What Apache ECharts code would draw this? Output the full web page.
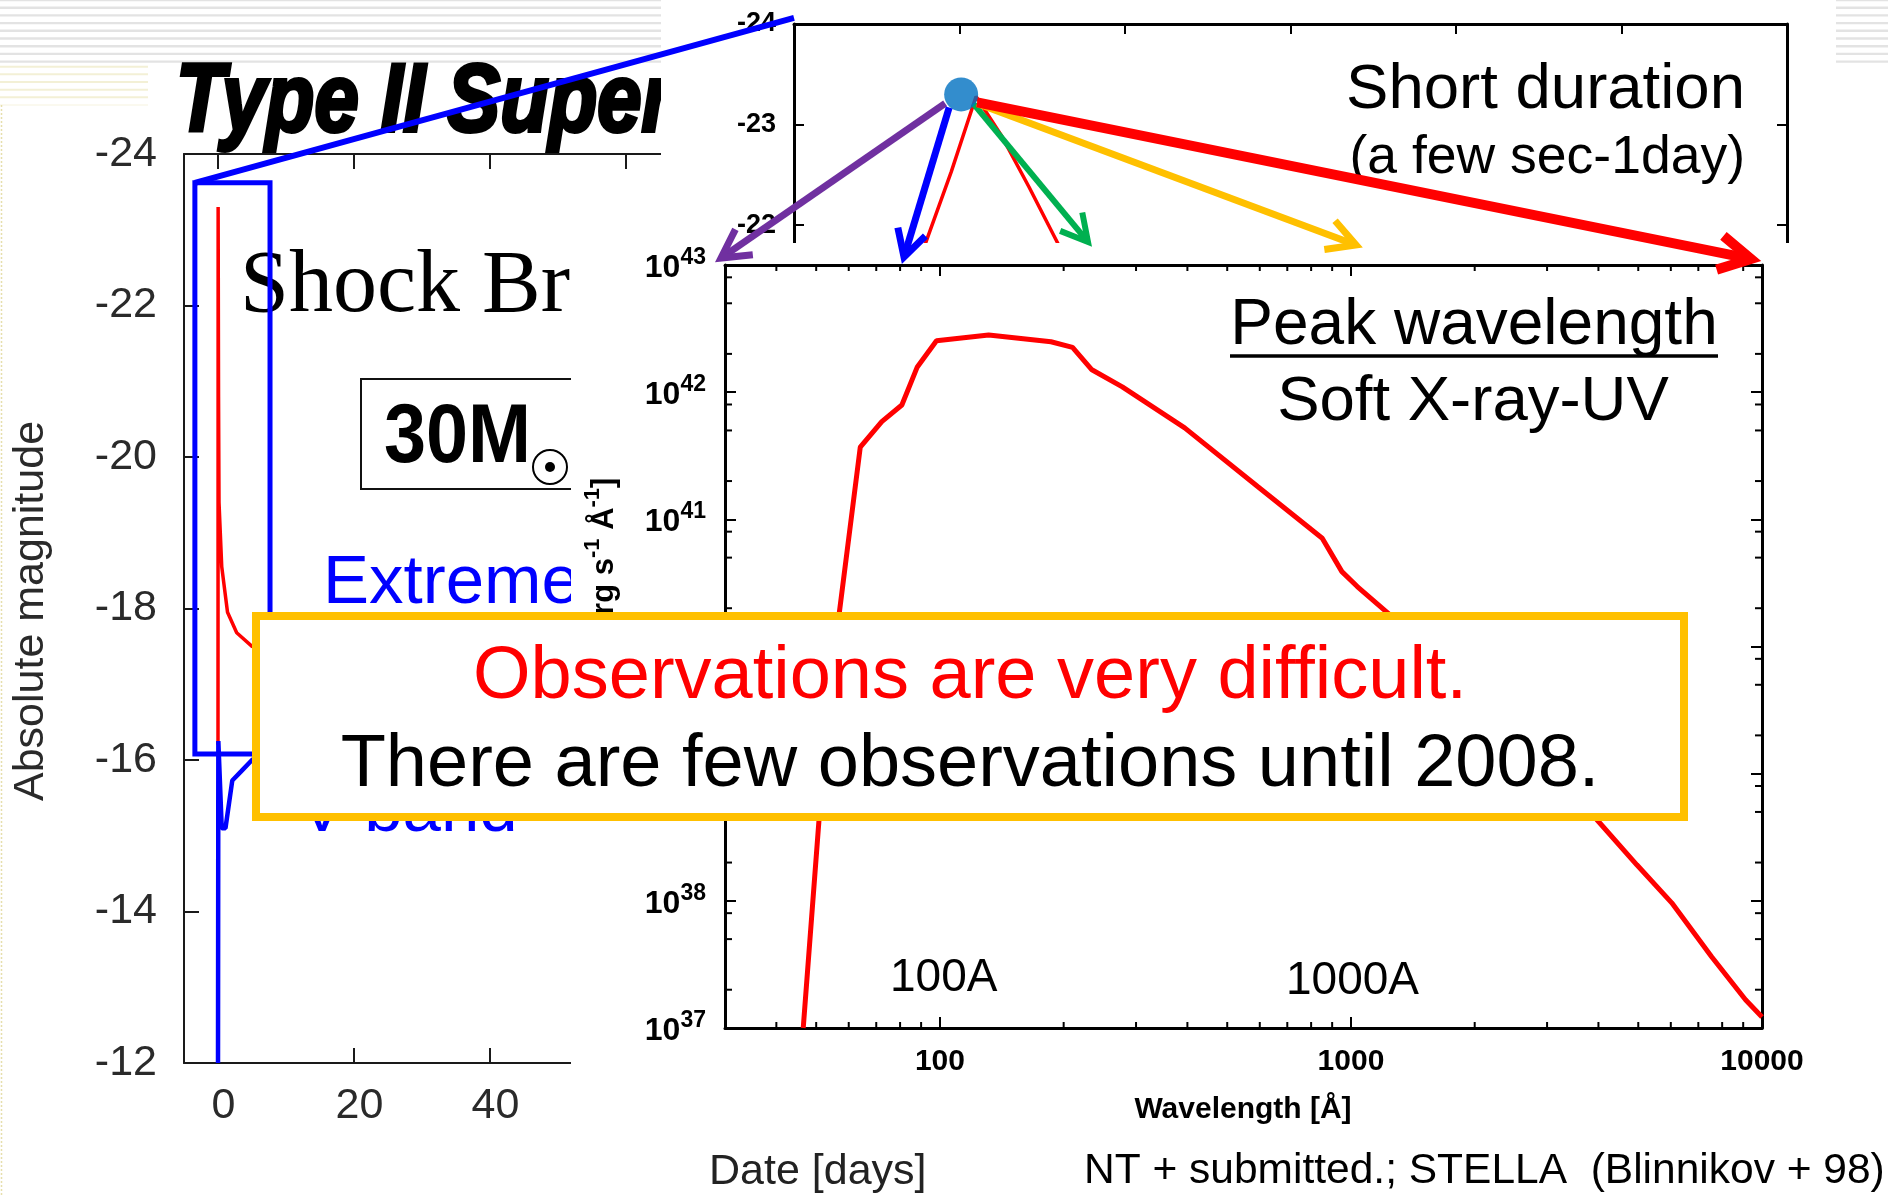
<!DOCTYPE html>
<html>
<head>
<meta charset="utf-8">
<script src="https://cdn.jsdelivr.net/npm/echarts@6/dist/echarts.min.js"></script>
<style>
html, body { margin: 0; padding: 0; background: #fff; }
#main { width: 1888px; height: 1195px; }
</style>
</head>
<body>
<div id="main"></div>
<script>
// ---- light curve of a 30 Msun explosion (days, absolute magnitude) ----
const lcRedDays = [0, 0.02, 0.08, 0.15, 0.55, 1.4, 2.75, 5, 8];
const lcRedMag  = [-16.2, -23.3, -20.8, -19.4, -18.55, -17.95, -17.68, -17.5, -17.4];
const lcVDays   = [0, 0.05, 0.55, 1.1, 2.1, 3.4, 5, 8];
const lcVMag    = [-12, -16.25, -15.1, -15.1, -15.73, -15.85, -16.0, -16.15];
const lcDayTicks = [0, 20, 40, 60];
// window around the breakout peak that is enlarged above
const zoomWindowDays = [-3.4, 7.65];
const zoomWindowMag  = [-23.62, -16.08];

// ---- close-up of the breakout peak ----
const peakTime = [0.79, 0.95, 1.1, 1.25, 1.42, 1.6];
const peakMag  = [-21.8, -22.53, -23.28, -22.9, -22.38, -21.8];
const peakPoint = [1.01, -23.3];

// ---- spectrum at the peak (wavelength in Angstrom, erg/s/A) ----
const specWavelength = [46.5, 50.8, 56.9, 64.0, 72.2, 80.8, 88.1, 98.1, 131.4, 186.3, 210.2, 234.3,
  277.8, 394, 592.8, 851.4, 950.4, 1036, 1230, 3966, 4959, 6031, 7541, 9118, 10000];
const specLum = [1.0e37, 4.34e38, 1.83e40, 3.69e41, 5.86e41, 7.93e41, 1.58e42, 2.54e42, 2.82e42, 2.49e42, 2.25e42, 1.50e42,
  1.10e42, 5.24e41, 1.81e41, 7.10e40, 3.88e40, 2.96e40, 1.83e40, 4.34e38, 1.92e38, 9.64e37, 3.63e37, 1.67e37, 1.22e37];
const wlRange  = [30, 10000];
const lumRange = [1e37, 1e43];
const wlMinorTicks = [40, 50, 60, 70, 80, 90, 200, 300, 400, 500, 600, 700, 800, 900,
  2000, 3000, 4000, 5000, 6000, 7000, 8000, 9000];
const lumMinorTicks = [2e37, 5e37, 8e37, 2e38, 5e38, 8e38, 2e39, 5e39, 8e39, 2e40, 5e40, 8e40,
  2e41, 5e41, 8e41, 2e42, 5e42, 8e42];

const FONT = '"Liberation Sans", Arial, sans-serif';
const SERIF = '"Liberation Serif", "Times New Roman", serif';
const zip = (a, b) => a.map((v, i) => [v, b[i]]);

const chart = echarts.init(document.getElementById('main'), null, { renderer: 'canvas' });

function minorTicks(axis, values, len) {
  return {
    type: 'custom', xAxisIndex: 3, yAxisIndex: 3, z: 9, silent: true, clip: false,
    data: values.map(v => [v]),
    renderItem: (params, api) => {
      const v = api.value(0);
      let segs;
      if (axis === 'x') {
        const a = api.coord([v, lumRange[0]]), b = api.coord([v, lumRange[1]]);
        segs = [[a[0], a[1], a[0], a[1] - len], [b[0], b[1], b[0], b[1] + len]];
      } else {
        const a = api.coord([wlRange[0], v]), b = api.coord([wlRange[1], v]);
        segs = [[a[0], a[1], a[0] + len, a[1]], [b[0], b[1], b[0] - len, b[1]]];
      }
      return {
        type: 'group',
        children: segs.map(s => ({
          type: 'line', shape: { x1: s[0], y1: s[1], x2: s[2], y2: s[3] },
          style: { stroke: '#000', lineWidth: 2 }
        }))
      };
    }
  };
}

const lcAxisLine = { onZero: false, lineStyle: { color: '#1a1a1a', width: 2 } };
const blackLine = { onZero: false, lineStyle: { color: '#000', width: 3 } };

chart.setOption({
  animation: false,
  backgroundColor: '#fff',
  grid: [
    { left: 184, top: 154, width: 510, height: 909 },
    { left: 794, top: 24, width: 993, height: 221.3 },
    { left: 725, top: 265, width: 1037, height: 763 }
  ],
  xAxis: [
    { gridIndex: 0, type: 'value', min: -5, max: 70, position: 'bottom', z: 1,
      axisLine: lcAxisLine, splitLine: { show: false },
      axisTick: { inside: true, length: 15, customValues: lcDayTicks, lineStyle: { color: '#1a1a1a', width: 2 } },
      axisLabel: { customValues: lcDayTicks, margin: 22, fontSize: 43, fontFamily: FONT, color: '#2a2a2a', padding: [0, 0, 0, 11] } },
    { gridIndex: 0, type: 'value', min: -5, max: 70, position: 'top', z: 1,
      axisLine: lcAxisLine, splitLine: { show: false },
      axisTick: { inside: true, length: 15, customValues: lcDayTicks, lineStyle: { color: '#1a1a1a', width: 2 } },
      axisLabel: { show: false } },
    { gridIndex: 1, type: 'value', min: 0, max: 6, interval: 1, position: 'top', z: 5,
      axisLine: blackLine, splitLine: { show: false },
      axisTick: { inside: true, length: 10, lineStyle: { color: '#000', width: 2 } },
      axisLabel: { show: false } },
    { gridIndex: 2, type: 'log', logBase: 10, min: wlRange[0], max: wlRange[1], position: 'bottom', z: 8,
      axisLine: blackLine, splitLine: { show: false },
      axisTick: { inside: true, length: 11, lineStyle: { color: '#000', width: 2 } },
      axisLabel: { showMinLabel: false, margin: 19, fontSize: 30, lineHeight: 30, fontWeight: 'bold', fontFamily: FONT, color: '#000',
        formatter: v => String(Math.round(v)) } },
    { gridIndex: 2, type: 'log', logBase: 10, min: wlRange[0], max: wlRange[1], position: 'top', z: 8,
      axisLine: blackLine, splitLine: { show: false },
      axisTick: { inside: true, length: 11, lineStyle: { color: '#000', width: 2 } },
      axisLabel: { show: false } }
  ],
  yAxis: [
    { gridIndex: 0, type: 'value', min: -24, max: -12, interval: 2, inverse: true, z: 1,
      axisLine: lcAxisLine, splitLine: { show: false },
      axisTick: { inside: true, length: 15, lineStyle: { color: '#1a1a1a', width: 2 } },
      axisLabel: { margin: 27, fontSize: 43, fontFamily: FONT, color: '#2a2a2a' } },
    { gridIndex: 1, type: 'value', min: -24, max: -21.8, interval: 1, inverse: true, position: 'left', z: 5,
      axisLine: blackLine, splitLine: { show: false },
      axisTick: { inside: true, length: 10, lineStyle: { color: '#000', width: 2 } },
      axisLabel: { showMaxLabel: false, margin: 18, fontSize: 27, fontWeight: 'bold', fontFamily: FONT, color: '#000' } },
    { gridIndex: 1, type: 'value', min: -24, max: -21.8, interval: 1, inverse: true, position: 'right', z: 5,
      axisLine: blackLine, splitLine: { show: false },
      axisTick: { inside: true, length: 10, lineStyle: { color: '#000', width: 2 } },
      axisLabel: { show: false } },
    { gridIndex: 2, type: 'log', logBase: 10, min: lumRange[0], max: lumRange[1], position: 'left', z: 8,
      axisLine: blackLine, splitLine: { show: false },
      axisTick: { inside: true, length: 11, lineStyle: { color: '#000', width: 2 } },
      axisLabel: {
        margin: 19,
        formatter: v => '{b|10}{s|' + Math.round(Math.log10(v)) + '}',
        rich: {
          b: { fontSize: 32, fontWeight: 'bold', fontFamily: FONT, color: '#000', lineHeight: 38, verticalAlign: 'bottom' },
          s: { fontSize: 23, fontWeight: 'bold', fontFamily: FONT, color: '#000', lineHeight: 12, verticalAlign: 'top' }
        }
      } },
    { gridIndex: 2, type: 'log', logBase: 10, min: lumRange[0], max: lumRange[1], position: 'right', z: 8,
      axisLine: blackLine, splitLine: { show: false },
      axisTick: { inside: true, length: 11, lineStyle: { color: '#000', width: 2 } },
      axisLabel: { show: false } }
  ],
  series: [
    { name: 'bolometric', type: 'line', xAxisIndex: 0, yAxisIndex: 0, z: 2, silent: true,
      data: zip(lcRedDays, lcRedMag), showSymbol: false, lineStyle: { color: '#ff0000', width: 3.5 } },
    { name: 'V band', type: 'line', xAxisIndex: 0, yAxisIndex: 0, z: 2, silent: true,
      data: zip(lcVDays, lcVMag), showSymbol: false, lineStyle: { color: '#0000ff', width: 4.5 } },
    { name: 'peak', type: 'line', xAxisIndex: 2, yAxisIndex: 1, z: 6, silent: true, clip: true,
      data: zip(peakTime, peakMag), showSymbol: false, lineStyle: { color: '#ff0000', width: 3.5 } },
    { name: 'peak point', type: 'scatter', xAxisIndex: 2, yAxisIndex: 1, z: 11, silent: true,
      data: [peakPoint], symbolSize: 34, itemStyle: { color: '#0070C0' } },
    { name: 'spectrum', type: 'line', xAxisIndex: 3, yAxisIndex: 3, z: 9, silent: true, clip: true,
      data: zip(specWavelength, specLum), showSymbol: false, lineStyle: { color: '#ff0000', width: 5 } },
    minorTicks('x', wlMinorTicks, 6),
    minorTicks('y', lumMinorTicks, 7)
  ]
});

// ---- annotations and slide decoration ----
function text(x, y, str, o) {
  o = o || {};
  return {
    type: 'text', x: x, y: y, z: o.z != null ? o.z : 3, rotation: o.rotation || 0,
    scaleX: o.scaleX || 1, silent: true,
    style: {
      text: str, fontSize: o.size || 40, fontFamily: o.family || FONT,
      fontWeight: o.weight || 'normal', fontStyle: o.style || 'normal',
      fill: o.color || '#000', stroke: o.stroke || null, lineWidth: o.lineWidth || 0,
      align: o.align || 'left', textAlign: o.align || 'left',
      verticalAlign: 'middle', textVerticalAlign: 'middle', rich: o.rich
    }
  };
}
function arrow(x1, y1, x2, y2, color, w, head) {
  const a = Math.atan2(y2 - y1, x2 - x1);
  const wing = s => [x2 - head * Math.cos(a + s), y2 - head * Math.sin(a + s)];
  return [
    { type: 'line', z: 10, silent: true, shape: { x1: x1, y1: y1, x2: x2 - 3 * Math.cos(a), y2: y2 - 3 * Math.sin(a) },
      style: { stroke: color, lineWidth: w } },
    { type: 'polyline', z: 10, silent: true, shape: { points: [wing(0.5), [x2, y2], wing(-0.5)] },
      style: { stroke: color, lineWidth: w, fill: null, lineJoin: 'miter' } }
  ];
}

const lc = { xAxisIndex: 0, yAxisIndex: 0 };
const pk = { xAxisIndex: 2, yAxisIndex: 1 };
const boxTL = chart.convertToPixel(lc, [zoomWindowDays[0], zoomWindowMag[0]]);
const boxBR = chart.convertToPixel(lc, [zoomWindowDays[1], zoomWindowMag[1]]);
const pkCorner = chart.convertToPixel(pk, [0, -24.06]);
const dot = chart.convertToPixel(pk, peakPoint);

const g = [];
// striped slide background
for (let k = 0; k <= 8; k++) {
  g.push({ type: 'rect', z: 0, silent: true, shape: { x: 0, y: k * 7.7 - 1.2, width: 1888, height: 2.4 }, style: { fill: '#e3e3e3' } });
}
for (let k = 0; k <= 4; k++) {
  g.push({ type: 'rect', z: 0, silent: true, shape: { x: 0, y: 66.7 + k * 7.65 - 1, width: 148, height: 2 }, style: { fill: '#f3f0d6' } });
}
g.push({ type: 'line', z: 0, silent: true, shape: { x1: 0, y1: 105, x2: 148, y2: 105 }, style: { stroke: '#f6f3df', lineWidth: 1 } });
g.push({ type: 'line', z: 0, silent: true, shape: { x1: 1.5, y1: 105, x2: 1.5, y2: 1195 }, style: { stroke: '#e6dfad', lineWidth: 1.5, lineDash: [2, 2] } });

// slide headings over the light curve
g.push(text(176, 104, 'Type II Supernova', { size: 97, weight: 'bold', style: 'italic', scaleX: 0.82, stroke: '#000', lineWidth: 4 }));
g.push(text(240, 288, 'Shock Breakout', { size: 88, family: SERIF }));
g.push({ type: 'rect', z: 3, silent: true, shape: { x: 361, y: 379, width: 400, height: 110 }, style: { fill: null, stroke: '#111', lineWidth: 2 } });
g.push(text(384, 439, '30M', { size: 84, weight: 'bold', scaleX: 0.9 }));
g.push({ type: 'circle', z: 3, silent: true, shape: { cx: 550, cy: 467, r: 17 }, style: { fill: null, stroke: '#000', lineWidth: 2 } });
g.push({ type: 'circle', z: 3, silent: true, shape: { cx: 550, cy: 467, r: 5 }, style: { fill: '#000' } });
g.push(text(323, 584, 'Extreme UV', { size: 69, color: '#0000ff' }));
g.push(text(299, 812, 'V band', { size: 69, color: '#0000ff' }));
g.push(text(31, 611, 'Absolute magnitude', { size: 43, color: '#2a2a2a', align: 'center', rotation: Math.PI / 2 }));
g.push(text(709, 1172, 'Date [days]', { size: 43, color: '#222' }));
g.push(text(1084, 1171, 'NT + submitted.; STELLA  (Blinnikov + 98)', { size: 42.5, color: '#000' }));

// zoom window on the light curve
g.push({ type: 'rect', z: 3.5, silent: true,
  shape: { x: boxTL[0], y: boxTL[1], width: boxBR[0] - boxTL[0], height: boxBR[1] - boxTL[1] },
  style: { fill: null, stroke: '#0000ff', lineWidth: 5 } });

// panel of the peak close-up
g.push({ type: 'rect', z: 4, silent: true, shape: { x: 661, y: 0, width: 1175, height: 243 }, style: { fill: '#fff' } });
g.push(text(1745, 90, 'Short duration', { size: 63.5, align: 'right', z: 6 }));
g.push(text(1745, 158, '(a few sec-1day)', { size: 53.5, align: 'right', z: 6 }));

// panel of the spectrum
g.push({ type: 'rect', z: 7, silent: true, shape: { x: 571, y: 243, width: 1317, height: 892 }, style: { fill: '#fff' } });
g.push(text(1474, 326, 'Peak wavelength', { size: 64, align: 'center', z: 9 }));
g.push({ type: 'line', z: 9, silent: true, shape: { x1: 1230, y1: 356, x2: 1718, y2: 356 }, style: { stroke: '#000', lineWidth: 3.5 } });
g.push(text(1473, 402, 'Soft X-ray-UV', { size: 63.5, align: 'center', z: 9 }));
g.push(text(890, 978, '100A', { size: 46, z: 9 }));
g.push(text(1286, 981, '1000A', { size: 46, z: 9 }));
g.push(text(1243, 1109.6, 'Wavelength [Å]', { size: 30, weight: 'bold', align: 'center', z: 9 }));
g.push(text(601, 647, '{b|Luminosity [erg s}{s|-1}{b| Å}{s|-1}{b|]}', {
  align: 'center', rotation: Math.PI / 2, z: 9,
  rich: {
    b: { fontSize: 31, fontWeight: 'bold', fontFamily: FONT, fill: '#000', lineHeight: 38, verticalAlign: 'bottom' },
    s: { fontSize: 22, fontWeight: 'bold', fontFamily: FONT, fill: '#000', lineHeight: 12, verticalAlign: 'top' }
  }
}));

// connector from the zoom window to the close-up
g.push({ type: 'line', z: 10, silent: true, shape: { x1: boxTL[0], y1: boxTL[1], x2: pkCorner[0], y2: pkCorner[1] },
  style: { stroke: '#0000ff', lineWidth: 6 } });

// arrows from the peak to the spectrum
g.push.apply(g, arrow(dot[0] - 16, dot[1] + 9, 721, 258, '#7030A0', 7, 32));
g.push.apply(g, arrow(dot[0] - 12, dot[1] + 13, 904, 257, '#0000ff', 7, 30));
g.push.apply(g, arrow(dot[0] + 12, dot[1] + 9, 1088, 242, '#00B050', 6, 30));
g.push.apply(g, arrow(dot[0] + 16, dot[1] + 9, 1356, 245, '#FFC000', 7, 32));
g.push.apply(g, arrow(dot[0] + 16, dot[1] + 8, 1751, 259, '#ff0000', 10, 36));

// message box
g.push({ type: 'rect', z: 12, silent: true, shape: { x: 256, y: 616, width: 1428, height: 201 },
  style: { fill: '#fff', stroke: '#FFC000', lineWidth: 8 } });
g.push(text(970, 678, 'Observations are very difficult.', { size: 74, color: '#ff0000', align: 'center', z: 13 }));
g.push(text(970, 766, 'There are few observations until 2008.', { size: 74, color: '#000', align: 'center', z: 13 }));

chart.setOption({ graphic: { elements: g } });
</script>
</body>
</html>
